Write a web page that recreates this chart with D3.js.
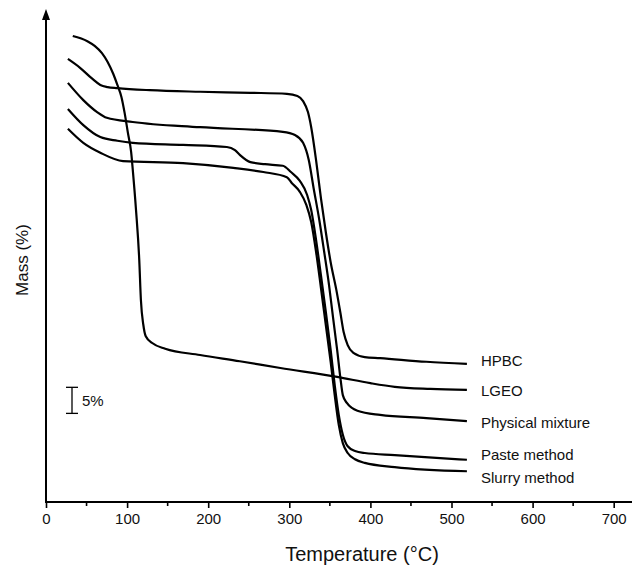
<!DOCTYPE html>
<html>
<head>
<meta charset="utf-8">
<script src="https://cdn.jsdelivr.net/npm/d3@7"></script>
<style>
  body { margin: 0; background: #fff; }
  svg { display: block; font-family: "Liberation Sans", Arial, sans-serif; }
</style>
</head>
<body>
<svg id="chart" width="633" height="566"></svg>
<script>
// series names, in the order they end on the right
const names = ["HPBC", "LGEO", "Physical mixture", "Paste method", "Slurry method"];

// temperature (°C) and offset mass (%)
const hpbcT = [27, 42, 57, 67, 76, 88, 128, 190, 252, 297, 310, 317, 323, 327, 333, 339, 345, 351, 358, 363, 367, 372, 379, 393, 412, 469, 519];
const hpbcM = [85.0, 83.3, 81.2, 80.0, 79.6, 79.4, 79.0, 78.7, 78.5, 78.3, 77.9, 76.9, 74.8, 71.9, 65.6, 58.3, 51.8, 46.0, 40.7, 36.3, 32.6, 30.1, 28.6, 27.8, 27.6, 26.9, 26.5];

const lgeoT = [33, 51, 60, 69, 76, 83, 88, 93, 97, 101, 105, 107, 111, 115, 117, 120, 123, 131, 147, 190, 239, 289, 359, 400, 430, 474, 519];
const lgeoM = [89.4, 88.4, 87.5, 86.1, 84.4, 82.1, 80.0, 77.7, 74.6, 70.8, 67.1, 63.7, 56.0, 46.4, 38.8, 34.0, 31.8, 30.5, 29.4, 28.2, 27.0, 25.7, 24.0, 22.8, 22.1, 21.7, 21.5];

const physT = [27, 46, 63, 75, 107, 190, 292, 307, 317, 324, 330, 337, 343, 349, 354, 359, 363, 366, 371, 384, 412, 469, 519];
const physM = [80.4, 77.1, 74.8, 73.7, 72.9, 71.9, 71.0, 70.4, 68.9, 65.6, 60.2, 54.1, 48.0, 41.6, 35.3, 29.2, 23.8, 20.5, 19.0, 17.5, 16.7, 16.1, 15.5];

const pasteT = [27, 46, 67, 88, 107, 169, 223, 233, 239, 252, 270, 292, 302, 313, 322, 327, 333, 339, 345, 351, 356, 361, 366, 372, 381, 393, 430, 519];
const pasteM = [75.4, 72.3, 70.0, 69.3, 68.9, 68.5, 68.1, 67.5, 66.6, 65.2, 64.8, 64.5, 63.3, 61.6, 58.9, 56.0, 50.3, 43.5, 36.5, 29.2, 22.4, 16.7, 12.9, 10.7, 9.8, 9.4, 9.0, 8.1];

const slurryT = [27, 46, 67, 95, 169, 231, 268, 297, 303, 313, 321, 327, 333, 339, 345, 351, 356, 361, 366, 372, 381, 393, 430, 519];
const slurryM = [71.6, 68.9, 67.0, 65.4, 65.0, 64.1, 63.3, 62.3, 61.2, 59.5, 57.0, 53.7, 48.0, 41.1, 34.0, 26.9, 20.5, 14.8, 11.3, 9.4, 8.2, 7.5, 6.7, 5.9];

const xTicks = [0, 100, 200, 300, 400, 500, 600, 700];
const xMinorTicks = [50, 150, 250, 350, 450, 550, 650];
const scaleBar = [17, 22]; // the 5 % bar, in offset mass units

const series = [
  { name: names[0], t: hpbcT, m: hpbcM, dy: -3 },
  { name: names[1], t: lgeoT, m: lgeoM, dy: 1 },
  { name: names[2], t: physT, m: physM, dy: 2 },
  { name: names[3], t: pasteT, m: pasteM, dy: -5 },
  { name: names[4], t: slurryT, m: slurryM, dy: 7 }
];

const svg = d3.select("#chart");

const x = d3.scaleLinear().domain([0, 700]).range([46, 613.7]);
const y = d3.scaleLinear().domain([0, 94]).range([502, 12]);

// x axis
const xAxis = svg.append("g")
    .attr("transform", "translate(0,502)")
    .call(d3.axisBottom(x).tickValues(xTicks).tickSize(6).tickSizeOuter(0).tickPadding(5));
xAxis.select(".domain").remove();
xAxis.selectAll(".tick line").attr("stroke-width", 1.6);
xAxis.selectAll(".tick text")
    .attr("font-size", 15)
    .attr("font-family", "Liberation Sans, Arial, sans-serif")
    .attr("fill", "#111");

svg.append("g")
    .attr("transform", "translate(0,502)")
    .selectAll("line")
    .data(xMinorTicks)
    .join("line")
    .attr("x1", d => x(d)).attr("x2", d => x(d))
    .attr("y1", 0).attr("y2", 4)
    .attr("stroke", "#000")
    .attr("stroke-width", 1.6);

svg.append("line")
    .attr("x1", 45).attr("x2", 632)
    .attr("y1", 502).attr("y2", 502)
    .attr("stroke", "#000").attr("stroke-width", 2);

// y axis with arrow
svg.append("line")
    .attr("x1", 46).attr("x2", 46)
    .attr("y1", 503).attr("y2", 18)
    .attr("stroke", "#000").attr("stroke-width", 2);
svg.append("path")
    .attr("d", "M46,9 L42,20 L50,20 Z")
    .attr("fill", "#000");

// axis titles
svg.append("text")
    .attr("x", 362).attr("y", 561)
    .attr("text-anchor", "middle")
    .attr("font-size", 20)
    .attr("fill", "#111")
    .text("Temperature (°C)");

svg.append("text")
    .attr("transform", "translate(28,260) rotate(-90)")
    .attr("text-anchor", "middle")
    .attr("font-size", 17)
    .attr("fill", "#111")
    .text("Mass (%)");

// curves
const line = d3.line()
    .x(d => x(d[0]))
    .y(d => y(d[1]))
    .curve(d3.curveMonotoneX);

svg.append("g")
    .selectAll("path")
    .data(series)
    .join("path")
    .attr("d", s => line(d3.zip(s.t, s.m)))
    .attr("fill", "none")
    .attr("stroke", "#000")
    .attr("stroke-width", 2.2)
    .attr("stroke-linejoin", "round");

// labels at curve ends
svg.append("g")
    .selectAll("text")
    .data(series)
    .join("text")
    .attr("x", 481)
    .attr("y", s => y(s.m[s.m.length - 1]) + s.dy)
    .attr("dy", "0.35em")
    .attr("font-size", 15)
    .attr("fill", "#111")
    .text(s => s.name);

// 5 % scale bar
const barTop = y(scaleBar[1]);
const barBottom = y(scaleBar[0]);
const bar = svg.append("g").attr("stroke", "#000").attr("stroke-width", 1.3);
bar.append("line").attr("x1", 72).attr("x2", 72).attr("y1", barTop).attr("y2", barBottom);
bar.append("line").attr("x1", 66).attr("x2", 78).attr("y1", barTop).attr("y2", barTop);
bar.append("line").attr("x1", 66).attr("x2", 78).attr("y1", barBottom).attr("y2", barBottom);
svg.append("text")
    .attr("x", 82).attr("y", (barTop + barBottom) / 2)
    .attr("dy", "0.35em")
    .attr("font-size", 15)
    .attr("fill", "#111")
    .text((scaleBar[1] - scaleBar[0]) + "%");
</script>
</body>
</html>
